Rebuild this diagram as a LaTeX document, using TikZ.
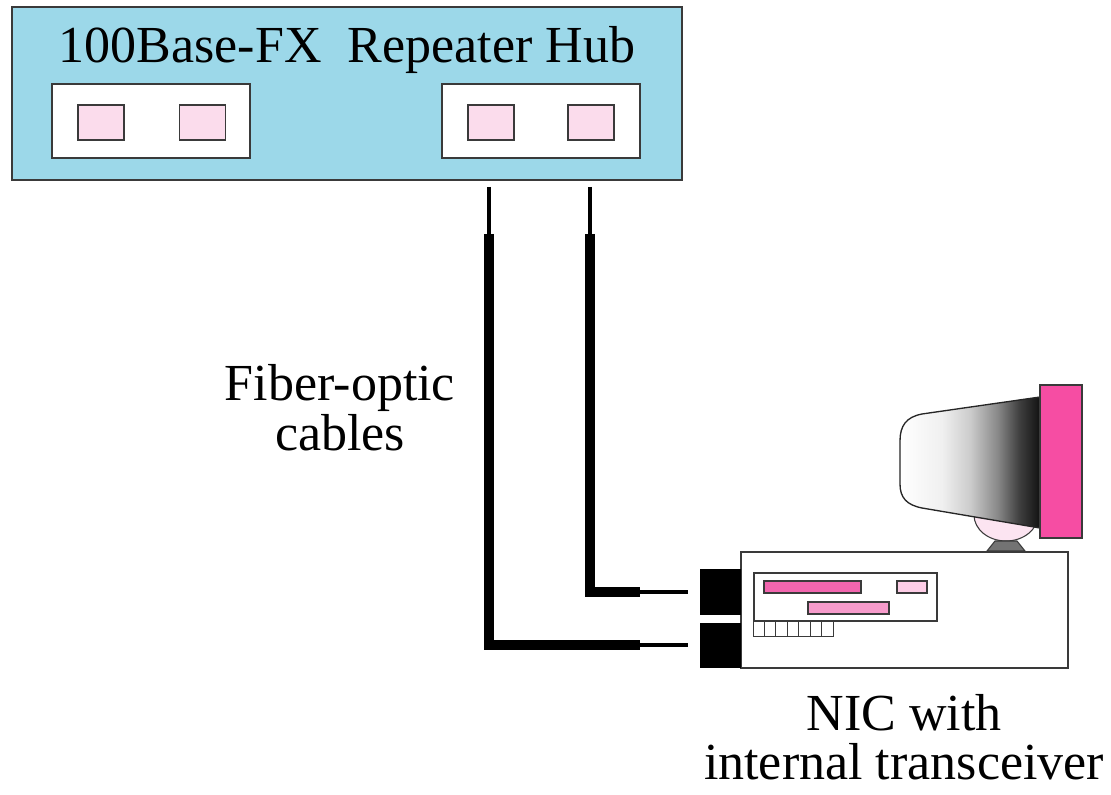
\documentclass[tikz,border=0pt]{standalone}
\usepackage{fontspec}
\setmainfont{Liberation Serif}
\definecolor{hubblue}{HTML}{9CD8E9}
\definecolor{portpink}{HTML}{FBDCEC}
\definecolor{screenpink}{HTML}{F64DA3}
\definecolor{barpinkA}{HTML}{F265AE}
\definecolor{barpinkB}{HTML}{F79BCB}
\definecolor{barpinkC}{HTML}{FDCDE6}
\definecolor{neckpink}{HTML}{FCE4F1}
\definecolor{edge}{HTML}{3A3A3A}
% tube shading: light over the front half, darkening towards the screen
\pgfdeclarehorizontalshading{crt}{100bp}{color(0bp)=(white); color(25bp)=(white);
  color(40bp)=(black!6); color(50bp)=(black!20); color(60bp)=(black!47);
  color(67.5bp)=(black!75); color(75bp)=(black!93); color(100bp)=(black!93)}
\begin{document}
\begin{tikzpicture}[x=0.75pt,y=-0.75pt,
  lbl/.style={font=\fontsize{39}{37}\selectfont, inner sep=0pt},
  hubbox/.style={draw=edge, line width=1.2pt, fill=hubblue, inner sep=0pt,
    minimum width=502.5pt, minimum height=129.75pt},
  portblock/.style={draw=edge, line width=0.9pt, fill=white, inner sep=0pt,
    minimum width=148.5pt, minimum height=55.5pt},
  port/.style={draw=edge, line width=0.9pt, fill=portpink, inner sep=0pt,
    minimum width=34.5pt, minimum height=26.25pt},
  plug/.style={fill=black, inner sep=0pt, minimum width=30.75pt},
  thinwire/.style={line width=2.8pt},
  thickwire/.style={line width=7.5pt},
  part/.style={draw=edge, line width=0.8pt}]
\useasboundingbox (0,0) rectangle (1111,795);

% repeater hub with its two port blocks
\node[hubbox] (hub) at (347,93.5) {};
\node[lbl, anchor=base] (hubtitle) at (347,63) {100Base-FX\ \ Repeater Hub};
\node[portblock] (blockL) at (151,121) {};
\node[portblock] (blockR) at (541,121) {};
\node[port] (p1) at (101,122.5) {};
\node[port] (p2) at (202.5,122.5) {};
\node[port] (p3) at (491,122.5) {};
\node[port] (p4) at (591,122.5) {};

% computer: monitor neck and stand
\filldraw[part, fill=neckpink] (1006,515) ellipse [x radius=32, y radius=26];
\filldraw[part, fill=black!55] (987,551) -- (995,541) -- (1017,541) -- (1025,551) -- cycle;

% monitor body and screen
\shadedraw[shading=crt, draw=black!85, line width=1pt]
  (1040,397) -- (922,414) .. controls (906,417) and (900,426) .. (900,441)
  -- (900,484) .. controls (900,498) and (907,505) .. (922,508)
  -- (1040,528) -- cycle;
\filldraw[part, fill=screenpink] (1040,385) rectangle (1082,538);

% system unit with NIC
\node[part, fill=white, line width=1pt, inner sep=0pt, minimum width=245.25pt,
  minimum height=87pt] (pc) at (904.5,610) {};
\node[plug, minimum height=34.5pt] (jackA) at (720.5,592) {};
\node[plug, minimum height=33.75pt] (jackB) at (720.5,645.5) {};
\draw[part] (754,573) rectangle (937,621);
\filldraw[part, fill=barpinkA] (764,581) rectangle (861,593);
\filldraw[part, fill=barpinkC] (897,581) rectangle (927,593);
\filldraw[part, fill=barpinkB] (808,602) rectangle (889,614);
\foreach \i in {0,...,6}
  \draw[part, line width=0.6pt] ({753+\i*11.43},621) rectangle ({753+(\i+1)*11.43},636);

% fiber-optic cables
\coordinate (c1top) at (489,187);
\coordinate (c1joint) at (489,234);
\coordinate (c1turn) at (489,645);
\coordinate (c1end) at (640,645);
\coordinate (c1plug) at (688,645);
\coordinate (c2top) at (590,187);
\coordinate (c2joint) at (590,234);
\coordinate (c2turn) at (590,592);
\coordinate (c2end) at (640,592);
\coordinate (c2plug) at (688,592);
\draw[thinwire] (c1top) -- (c1joint);
\draw[thinwire] (c2top) -- (c2joint);
\draw[thickwire] (c1joint) -- (c1turn) -- (c1end);
\draw[thickwire] (c2joint) -- (c2turn) -- (c2end);
\draw[thinwire] (c1end) -- (c1plug);
\draw[thinwire] (c2end) -- (c2plug);

% labels
\node[lbl, anchor=base] (fiberlbl) at (340,400) {Fiber-optic};
\node[lbl, anchor=base] (fiberlbl2) at (340,450) {cables};
\node[lbl, anchor=base] (niclbl) at (904,730) {NIC with};
\node[lbl, anchor=base] (niclbl2) at (904,779) {internal transceiver};
\end{tikzpicture}
\end{document}
